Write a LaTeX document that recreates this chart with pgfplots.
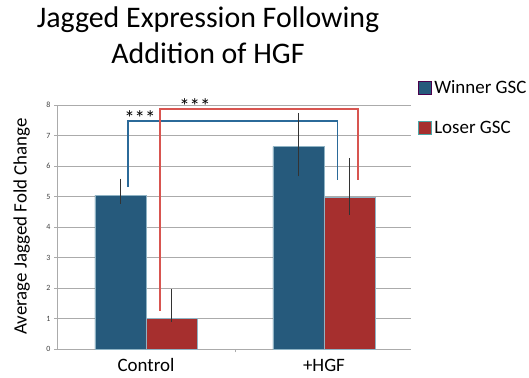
\documentclass[border=0pt]{standalone}
\usepackage{fontspec}
\setmainfont{Carlito}
\usepackage{pgfplots}
\pgfplotsset{compat=1.18}
\usepackage{pgfplotstable}
\definecolor{winner}{HTML}{265A7C}
\definecolor{loser}{HTML}{A62F2E}
\definecolor{bedge}{HTML}{8FB3C4}
\definecolor{bluebr}{HTML}{2B6A99}
\definecolor{redbr}{HTML}{D85550}
\definecolor{gridc}{HTML}{ABABAB}
\pgfplotstableread{
x y ep em
-0.1435 5.04 0.55 0.28
0.8565 6.64 1.10 0.98
}\winnertab
\pgfplotstableread{
x y ep em
0.1435 1.00 0.97 0.10
1.1435 4.98 1.29 0.57
}\losertab
\begin{document}
\begin{tikzpicture}[x=1bp,y=1bp]
\path[use as bounding box] (0,0) rectangle (529,377);
\node[font=\fontsize{30}{36}\selectfont, anchor=base] at (208,350) {Jagged Expression Following};
\node[font=\fontsize{30}{36}\selectfont, anchor=base] at (208,314) {Addition of HGF};
\begin{axis}[
  at={(57bp,27.7bp)}, anchor=south west,
  scale only axis, width=354.2bp, height=244.3bp,
  xmin=-0.5, xmax=1.49, ymin=0, ymax=8,
  clip=false,
  axis x line*=bottom, axis y line*=left,
  axis line style={gridc, line width=0.8pt},
  ytick={0,1,...,8},
  ymajorgrids, grid style={gridc, line width=0.8pt},
  yticklabel style={font=\fontsize{8}{9}\selectfont, text=black!75},
  /pgf/number format/assume math mode=true,
  tick align=outside, major tick length=3bp,
  tick style={gridc, line width=0.8pt},
  xtick={0.5}, xticklabels={},
  extra x ticks={0,1}, extra x tick labels={Control,+HGF},
  extra x tick style={major tick length=0pt, xticklabel style={font=\fontsize{19}{22}\selectfont, yshift=-6bp}},
  ylabel={Average Jagged Fold Change},
  ylabel style={font=\fontsize{19}{22}\selectfont, at={(axis description cs:-0.100,0.503)}, anchor=center},
  legend style={at={(axis description cs:1.02,1.11)}, anchor=north west, draw=none, fill=none,
    font=\fontsize{19}{22}\selectfont, row sep=22bp, inner sep=0pt},
  legend cell align=left,
]
\addplot[color=bluebr, line width=1.6pt, mark=none, forget plot] table {
x y
-0.10 5.31
-0.10 7.47
1.075 7.47
1.075 5.53
};
\addplot[color=redbr, line width=1.6pt, mark=none, forget plot] table {
x y
0.079 1.27
0.079 7.86
1.19 7.86
1.19 5.53
};
\addplot[ybar, bar width=0.287, bar shift=0pt, fill=winner, draw=bedge, line width=0.6pt,
  legend image code/.code={\draw[fill=winner, draw=violet!60!black, line width=0.8pt] (0bp,-6.5bp) rectangle (13bp,6.5bp);},
  error bars/.cd, y dir=both, y explicit, error bar style={black!80, line width=1pt}, error mark=none]
  table[x=x, y=y, y error plus=ep, y error minus=em] {\winnertab};
\addlegendentry{Winner GSC}
\addplot[ybar, bar width=0.287, bar shift=0pt, fill=loser, draw=bedge, line width=0.6pt,
  legend image code/.code={\draw[fill=loser, draw=teal!70, line width=0.8pt] (0bp,-6.5bp) rectangle (13bp,6.5bp);},
  error bars/.cd, y dir=both, y explicit, error bar style={black!80, line width=1pt}, error mark=none]
  table[x=x, y=y, y error plus=ep, y error minus=em] {\losertab};
\addlegendentry{Loser GSC}
\node[font=\fontsize{21}{24}\selectfont] at (axis cs:-0.034,7.58) {***};
\node[font=\fontsize{21}{24}\selectfont] at (axis cs:0.275,7.95) {***};
\end{axis}
\end{tikzpicture}
\end{document}
